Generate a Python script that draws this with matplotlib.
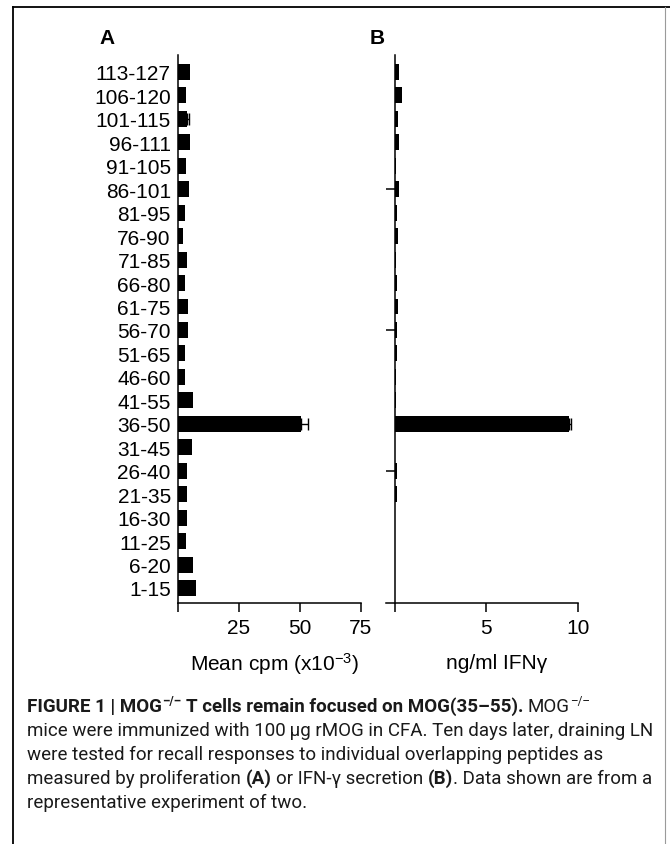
import numpy as np
import matplotlib
matplotlib.use("Agg")
import matplotlib.pyplot as plt
from matplotlib.lines import Line2D

# ---------------- data ----------------
peptides = ["1-15", "6-20", "11-25", "16-30", "21-35", "26-40", "31-45", "36-50",
            "41-55", "46-60", "51-65", "56-70", "61-75", "66-80", "71-85", "76-90",
            "81-95", "86-101", "91-105", "96-111", "101-115", "106-120", "113-127"]
prolif_cpm = [7.5, 6.4, 3.4, 3.9, 3.7, 3.9, 5.9, 50.5,
              6.1, 3.1, 2.9, 4.1, 4.2, 2.9, 3.7, 2.0,
              3.1, 4.5, 3.4, 5.0, 3.7, 3.4, 5.0]
prolif_err = [0, 0, 0, 0, 0, 0, 0, 2.7,
              0, 0, 0, 0, 0, 0, 0, 0,
              0, 0, 0, 0, 0.8, 0, 0]
ifng = [0, 0, 0, 0, 0.12, 0.12, 0.03, 9.55,
        0.1, 0.1, 0.14, 0.14, 0.18, 0.14, 0.1, 0.18,
        0.15, 0.22, 0.05, 0.22, 0.18, 0.38, 0.22]
ifng_err = [0, 0, 0, 0, 0, 0, 0, 0.1,
            0, 0, 0, 0, 0, 0, 0, 0,
            0, 0, 0, 0, 0, 0, 0]
xticks_a = [0, 25, 50, 75]
xticklabels_a = ["", "25", "50", "75"]
xticks_b = [0, 5, 10]
xticklabels_b = ["", "5", "10"]
b_yticks = [5, 11, 17]

W, H = 670, 845
fig = plt.figure(figsize=(W / 100, H / 100), dpi=100)
fig.patch.set_facecolor("white")

plt.rcParams["mathtext.fontset"] = "custom"
plt.rcParams["mathtext.rm"] = "Liberation Sans"
plt.rcParams["mathtext.it"] = "Liberation Sans"
chart_font = ["Liberation Sans", "DejaVu Sans"]
FS = 15

def fx(px):
    return px / W

def fy(py):
    return 1 - py / H

y = np.arange(len(peptides))
ytop, ybot = 56, 604
ax_bottom = fy(ybot)
ax_h = (ybot - ytop) / H

# ---------------- panel A ----------------
axA = fig.add_axes([fx(177.7), ax_bottom, (360.7 - 177.7) / W, ax_h])
axA.barh(y, prolif_cpm, height=0.68, color="black")
pe = np.array(prolif_err)
m = pe > 0
axA.errorbar(np.array(prolif_cpm)[m], y[m], xerr=[np.zeros(m.sum()), pe[m]],
             fmt="none", ecolor="black", elinewidth=1.0, capsize=4, capthick=1.0)
axA.set_xlim(0, 75)
axA.set_ylim(-0.64, 22.72)
for s in ["top", "right"]:
    axA.spines[s].set_visible(False)
for s in ["left", "bottom"]:
    axA.spines[s].set_linewidth(1.1)
axA.set_xticks(xticks_a)
axA.set_xticklabels(xticklabels_a, fontsize=FS, family=chart_font)
axA.set_yticks(y)
axA.set_yticklabels(peptides, fontsize=FS, family=chart_font)
axA.tick_params(axis="y", length=0, pad=5)
axA.tick_params(axis="x", direction="out", length=6.5, width=1.1, pad=4)

# ---------------- panel B ----------------
axB = fig.add_axes([fx(385.5), ax_bottom, (577.7 - 385.5) / W, ax_h])
axB.barh(y, ifng, height=0.68, color="black")
ie = np.array(ifng_err)
m = ie > 0
axB.errorbar(np.array(ifng)[m], y[m], xerr=[np.zeros(m.sum()), ie[m]],
             fmt="none", ecolor="black", elinewidth=1.0, capsize=4, capthick=1.0)
axB.set_xlim(-0.5, 10)
axB.set_ylim(-0.64, 22.72)
for s in ["top", "right"]:
    axB.spines[s].set_visible(False)
axB.spines["left"].set_position(("data", 0))
for s in ["left", "bottom"]:
    axB.spines[s].set_linewidth(1.1)
axB.set_xticks(xticks_b)
axB.set_xticklabels(xticklabels_b, fontsize=FS, family=chart_font)
axB.set_yticks(b_yticks)
axB.set_yticklabels([])
axB.tick_params(axis="y", direction="out", length=6.5, width=1.1)
axB.tick_params(axis="x", direction="out", length=6.5, width=1.1, pad=4)

# ---------------- labels ----------------
fig.text(fx(107), fy(38), "A", fontsize=FS, weight="bold", family=chart_font,
         ha="center", va="center")
fig.text(fx(377), fy(38), "B", fontsize=FS, weight="bold", family=chart_font,
         ha="center", va="center")
fig.text(fx(274), fy(664), r"Mean cpm (x10$^{-3}$)", fontsize=FS, family=chart_font,
         ha="center", va="center")
fig.text(fx(497), fy(664), "ng/ml IFNγ", fontsize=FS, family=chart_font,
         ha="center", va="center")

# ---------------- frame ----------------
fig.add_artist(Line2D([fx(13), fx(670)], [fy(8), fy(8)], color="black", lw=1.3,
                      transform=fig.transFigure))
fig.add_artist(Line2D([fx(13), fx(13)], [fy(8), fy(845)], color="black", lw=1.3,
                      transform=fig.transFigure))
fig.add_artist(Line2D([fx(665), fx(665)], [fy(8), fy(845)], color="#9a9a9a", lw=0.8,
                      transform=fig.transFigure))

# ---------------- caption ----------------
cap_font = ["Roboto", "DejaVu Sans"]
CFS = 13.5
renderer = fig.canvas.get_renderer()

def text_w(s, weight, size):
    t = fig.text(0, 0, s, fontsize=size, weight=weight, family=cap_font)
    w = t.get_window_extent(renderer).width
    t.remove()
    return w

space_w = {}
for wt in ["bold", "normal"]:
    space_w[wt] = text_w("a a", wt, CFS) - text_w("aa", wt, CFS)

def draw_runs(x0, ybase, runs):
    x = x0
    for s, bold, sup in runs:
        wt = "bold" if bold else "normal"
        size = CFS * 0.62 if sup else CFS
        lead = len(s) - len(s.lstrip(" "))
        trail = len(s) - len(s.rstrip(" "))
        core = s.strip(" ")
        x += lead * space_w[wt]
        yy = ybase - (7 if sup else 0)
        t = fig.text(fx(x), fy(yy), core, fontsize=size, weight=wt, family=cap_font,
                     color="#1a1a1a", ha="left", va="baseline")
        x += t.get_window_extent(renderer).width
        x += trail * space_w[wt]

cap_lines = [
    [("FIGURE 1 | MOG", True, False), ("\u2013/\u2013", True, True),
     (" T cells remain focused on MOG(35\u201355).", True, False),
     (" MOG", False, False), ("\u2013/\u2013", False, True)],
    [("mice were immunized with 100\u2009\u03bcg rMOG in CFA. Ten days later, draining LN", False, False)],
    [("were tested for recall responses to individual overlapping peptides as", False, False)],
    [("measured by proliferation ", False, False), ("(A)", True, False),
     (" or IFN-\u03b3 secretion ", False, False), ("(B)", True, False),
     (". Data shown are from a", False, False)],
    [("representative experiment of two.", False, False)],
]
x_cap = 27
y_first = 712
line_gap = 24
for i, runs in enumerate(cap_lines):
    draw_runs(x_cap, y_first + i * line_gap, runs)

fig.savefig("out.png", dpi=100, facecolor="white")
